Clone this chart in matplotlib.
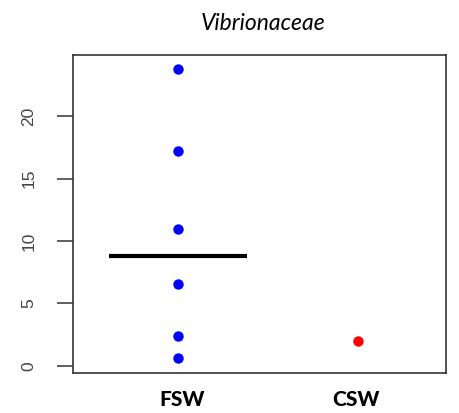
import numpy as np
import matplotlib
matplotlib.use("Agg")
import matplotlib.pyplot as plt

# values
groups = ["FSW", "CSW"]
fsw_values = [23.8, 17.2, 11.0, 6.6, 2.4, 0.6]
csw_values = [2.0]
fsw_median = 8.8
yticks = [0, 5, 10, 15, 20]

fig = plt.figure(figsize=(4.59, 4.13), dpi=100)
ax = fig.add_axes([0.159, 0.097, 0.813, 0.770])

ax.plot([1] * len(fsw_values), fsw_values, "o", color="blue", markersize=7.5, markeredgewidth=0)
ax.plot([2] * len(csw_values), csw_values, "o", color="red", markersize=7.5, markeredgewidth=0)
ax.hlines(fsw_median, 1 - 0.385, 1 + 0.385, color="black", linewidth=3)

ax.set_xlim(0.417, 2.49)
ax.set_ylim(-0.56, 24.9)
ax.set_xticks([])
ax.set_yticks(yticks)
ax.set_yticklabels([str(t) for t in yticks], rotation=90, va="center",
                   fontsize=12.5, color="#444444", family="Liberation Sans")
ax.tick_params(axis="y", length=11.5, width=1.2, color="#444444", pad=15)
for s in ax.spines.values():
    s.set_linewidth(1.2)
    s.set_color("#333333")

label_x = [1.025, 1.99]
for x, g in zip(label_x, groups):
    ax.text(x, -0.085, g, transform=ax.get_xaxis_transform(),
            ha="center", va="center", fontsize=15, fontweight="black", family="Lato")

ax.set_title("Vibrionaceae", fontstyle="italic", fontsize=16.5, family="Lato",
             pad=18, x=0.51)

fig.savefig("out.png", dpi=100)
